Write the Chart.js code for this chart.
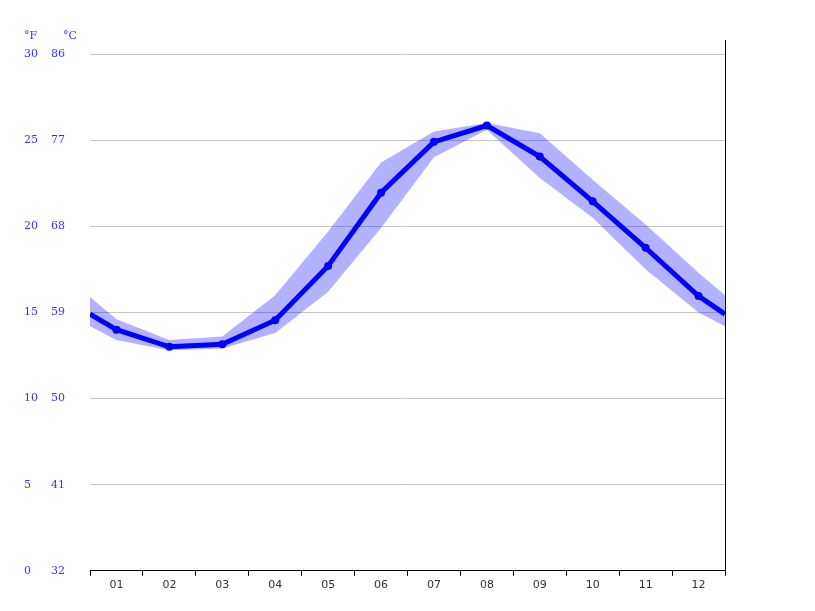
<!DOCTYPE html>
<html>
<head>
<meta charset="utf-8">
<script src="https://cdn.jsdelivr.net/npm/chart.js@4/dist/chart.umd.min.js"></script>
<style>
  html, body { margin: 0; padding: 0; background: #fff; }
  #wrap { width: 815px; height: 611px; }
</style>
</head>
<body>
<div id="wrap"><canvas id="chart" width="815" height="611"></canvas></div>
<script>
// --- DATA ---
// x positions: 0.5 and 12.5 are the wrap-around edges, 1..12 are months
const monthPos = [0.5, 1, 2, 3, 4, 5, 6, 7, 8, 9, 10, 11, 12, 12.5];
const monthLabels = ['01', '02', '03', '04', '05', '06', '07', '08', '09', '10', '11', '12'];
const avgTemp = [14.9, 14.0, 13.0, 13.15, 14.55, 17.7, 21.95, 24.9, 25.85, 24.05, 21.45, 18.75, 15.95, 14.9];
const highTemp = [15.9, 14.6, 13.4, 13.6, 16.0, 19.7, 23.7, 25.5, 26.0, 25.4, 22.7, 20.1, 17.3, 16.0];
const lowTemp = [14.2, 13.4, 12.8, 12.9, 13.8, 16.2, 19.9, 24.0, 25.6, 22.8, 20.5, 17.5, 15.0, 14.2];
const celsiusTicks = [0, 5, 10, 15, 20, 25, 30];

const BLUE = '#0000ff';
const toPts = arr => arr.map((v, i) => ({ x: monthPos[i], y: v }));

// Draw the unit headers and the right border line
const decorations = {
    id: 'decorations',
    afterDraw(chart) {
        const { ctx, chartArea } = chart;
        ctx.save();
        ctx.fillStyle = '#3333ff';
        ctx.font = '11px "DejaVu Serif"';
        ctx.textBaseline = 'middle';
        ctx.fillText('°F', 24, 36);
        ctx.fillText('°C', 63, 36);
        ctx.strokeStyle = '#000';
        ctx.lineWidth = 1;
        ctx.beginPath();
        ctx.moveTo(chartArea.right + 0.5, 40);
        ctx.lineTo(chartArea.right + 0.5, chartArea.bottom);
        ctx.stroke();
        ctx.restore();
    }
};

new Chart(document.getElementById('chart'), {
    type: 'line',
    data: {
        datasets: [
            { data: toPts(highTemp), borderWidth: 0, pointRadius: 0, fill: false, tension: 0, order: 3 },
            { data: toPts(lowTemp), borderWidth: 0, pointRadius: 0, fill: '-1', backgroundColor: 'rgba(0,0,255,0.3)', tension: 0, order: 2 },
            {
                data: toPts(avgTemp), borderColor: BLUE, borderWidth: 5, backgroundColor: BLUE,
                pointRadius: monthPos.map(p => (p % 1 === 0 ? 4 : 0)), pointBackgroundColor: BLUE,
                pointBorderWidth: 0, fill: false, tension: 0, order: 1
            }
        ]
    },
    options: {
        responsive: false,
        animation: false,
        layout: { padding: { top: 54, left: 24, right: 90, bottom: 16 } },
        plugins: { legend: { display: false }, tooltip: { enabled: false } },
        scales: {
            x: {
                type: 'linear', min: 0.5, max: 12.5,
                afterBuildTicks: s => { s.ticks = []; for (let v = 0.5; v <= 12.5; v += 0.5) s.ticks.push({ value: v }); },
                ticks: {
                    autoSkip: false, maxRotation: 0, color: '#333', font: { family: 'DejaVu Sans', size: 11 },
                    callback: v => (v % 1 === 0 ? monthLabels[v - 1] : '')
                },
                grid: {
                    drawOnChartArea: false, tickLength: 5,
                    tickColor: c => (c.tick && c.tick.value % 1 === 0 ? 'rgba(0,0,0,0)' : '#000')
                },
                border: { color: '#000', width: 1 }
            },
            yF: {
                position: 'left', min: 0, max: 30,
                afterBuildTicks: s => { s.ticks = celsiusTicks.map(v => ({ value: v })); },
                afterFit: s => { s.width = 39; },
                ticks: {
                    crossAlign: 'far', padding: 0, color: '#3333ff', font: { family: 'DejaVu Serif', size: 11 },
                    callback: v => String(Math.round(v * 9 / 5 + 32))
                },
                grid: { display: false }, border: { display: false }
            },
            y: {
                position: 'left', min: 0, max: 30,
                afterBuildTicks: s => { s.ticks = celsiusTicks.map(v => ({ value: v })); },
                afterFit: s => { s.width = 27; },
                ticks: { crossAlign: 'far', padding: 0, color: '#3333ff', font: { family: 'DejaVu Serif', size: 11 } },
                grid: { color: c => (c.tick && c.tick.value === 0 ? 'rgba(0,0,0,0)' : '#c8c8c8'), drawTicks: false },
                border: { display: false }
            }
        }
    },
    plugins: [decorations]
});
</script>
</body>
</html>
